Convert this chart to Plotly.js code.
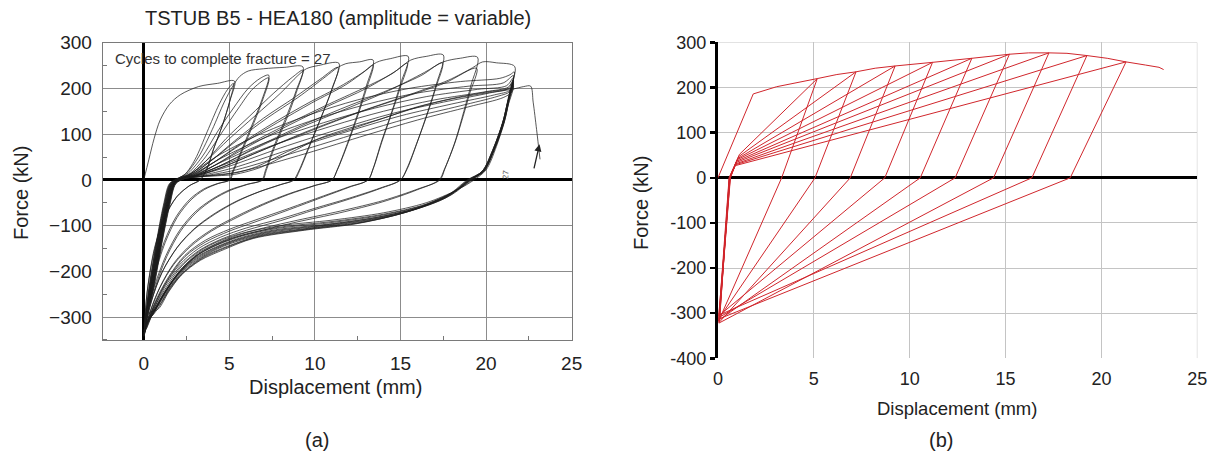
<!DOCTYPE html>
<html><head><meta charset="utf-8">
<script src="https://cdn.plot.ly/plotly-3.0.1.min.js"></script>
<style>html,body{margin:0;padding:0;background:#fff}#chart{width:1214px;height:454px}</style>
</head><body><div id="chart"></div>
<script>
// ---------- (a) experimental cycles: displacement (mm) and force (kN) ----------
const c01x=[0,0.3,0.6,0.96,1.5,2.13,3.2,4.3,5.3,5.05,4.6,4.1,3.7,3.3,2.7,1.95,1.25,0.67,0.2,0.03];
const c01f=[0,45,90,131,165,186,204,211,216,175,120,70,25,0,-12,-36,-80,-146,-245,-330];
const c02x=[0.03,0.25,0.72,1.15,1.5,1.9,2.4,3.0,3.7,4.4,4.9,5.25,5.02,4.58,4.08,3.68,3.28,2.65,1.9,1.2,0.62,0.18,0.02];
const c02f=[-330,-250,-140,-55,-8,2,12,45,105,165,198,211,172,118,68,24,0,-13,-38,-83,-150,-250,-338];
const c03x=[0.02,0.28,0.75,1.2,1.55,2.0,2.5,3.2,4.0,4.7,5.2,5.6,6.1,7.0,8.2,9.3,8.9,8.4,7.6,7.1,6.9,6.0,5.0,4.0,3.0,2.1,1.3,0.6,0.15,0.03];
const c03f=[-338,-250,-140,-55,-8,3,15,50,110,170,205,226,238,243,246,247,195,145,73,20,0,-10,-22,-42,-70,-110,-165,-235,-300,-335];
const c04x=[0.03,0.3,0.78,1.22,1.58,2.0,2.6,3.4,4.3,5.2,6.1,6.8,7.3,6.9,6.2,5.6,5.15,5.0,4.3,3.5,2.7,1.9,1.2,0.6,0.15,0.02];
const c04f=[-335,-250,-140,-55,-8,3,15,50,105,155,200,222,229,175,109,55,15,0,-8,-20,-42,-80,-135,-210,-290,-340];
const c05x=[0.02,0.26,0.74,1.18,1.55,2.0,2.7,3.5,4.5,5.5,6.4,7.3,6.92,6.25,5.65,5.2,5.05,4.35,3.55,2.75,1.95,1.25,0.62,0.17,0.03];
const c05f=[-340,-250,-140,-55,-8,2,14,45,100,155,200,223,172,108,55,15,0,-8,-21,-44,-82,-137,-212,-292,-332];
const c06x=[0.03,0.3,0.8,1.25,1.6,2.0,2.7,3.6,4.8,6.2,7.6,8.7,9.3,8.92,8.45,7.65,7.15,6.95,6.05,5.05,4.05,3.05,2.15,1.35,0.65,0.17,0.02];
const c06f=[-332,-250,-140,-55,-8,2,12,40,90,140,190,225,240,192,143,72,20,0,-10,-23,-43,-72,-112,-167,-237,-302,-342];
const c07x=[0.02,0.32,0.82,1.27,1.62,2.0,2.7,3.6,5.0,6.5,8.0,9.0,9.5,10.2,11.4,11.0,10.4,9.7,9.1,8.8,8.0,6.8,5.5,4.2,3.0,2.0,1.1,0.45,0.03];
const c07f=[-342,-250,-140,-55,-8,2,12,40,90,140,190,228,243,250,255,200,140,75,20,0,-10,-25,-45,-72,-105,-145,-200,-265,-336];
const c08x=[0.03,0.3,0.8,1.25,1.62,2.1,2.8,3.8,5.3,7.0,8.8,10.3,11.35,10.95,10.35,9.65,9.05,8.75,7.95,6.75,5.45,4.15,2.95,1.95,1.05,0.42,0.02];
const c08f=[-336,-250,-140,-55,-8,2,12,38,85,135,180,220,246,193,136,73,19,0,-11,-26,-47,-75,-108,-148,-203,-268,-330];
const c09x=[0.02,0.33,0.84,1.3,1.65,2.1,2.8,3.8,5.4,7.2,9.0,10.6,11.3,11.8,12.6,13.4,13.0,12.5,11.9,11.3,11.0,10.0,8.5,7.0,5.5,4.0,2.8,1.8,1.0,0.4,0.03];
const c09f=[-330,-250,-140,-55,-8,2,12,38,85,135,180,225,245,254,258,262,205,145,80,22,0,-12,-30,-52,-78,-108,-140,-180,-230,-285,-340];
const c10x=[0.03,0.34,0.85,1.3,1.66,2.1,2.9,4.0,5.7,7.6,9.6,11.5,12.8,13.4,13.0,12.5,11.9,11.3,11.0,9.95,8.45,6.95,5.45,3.95,2.75,1.75,0.95,0.38,0.02];
const c10f=[-340,-250,-140,-55,-8,2,11,36,80,125,168,205,235,251,198,140,77,21,0,-13,-32,-55,-82,-112,-145,-185,-235,-288,-334];
const c11x=[0.02,0.35,0.86,1.32,1.68,2.1,2.9,4.0,5.8,7.8,9.8,11.8,13.0,13.6,14.4,15.45,15.0,14.5,13.9,13.4,13.1,12.0,10.5,8.5,6.5,5.0,3.6,2.4,1.4,0.6,0.12,0.03];
const c11f=[-334,-250,-140,-55,-8,2,11,36,80,125,168,208,240,257,265,270,210,150,85,25,0,-15,-35,-62,-88,-108,-132,-165,-215,-272,-325,-338];
const c12x=[0.03,0.36,0.87,1.33,1.7,2.2,3.0,4.2,6.0,8.3,10.6,12.8,14.5,15.4,14.97,14.48,13.9,13.4,13.1,12.0,10.5,8.5,6.5,5.0,3.6,2.4,1.4,0.62,0.13,0.04];
const c12f=[-338,-250,-140,-55,-8,2,10,33,75,120,162,200,232,255,200,145,82,24,0,-16,-37,-65,-92,-112,-136,-168,-218,-274,-320,-328];
const c13x=[0.04,0.36,0.88,1.34,1.7,2.2,3.0,4.2,6.2,8.5,10.8,13.0,14.8,15.6,16.5,17.5,17.1,16.6,16.0,15.4,15.0,13.8,12.0,10.0,8.0,6.0,4.5,3.2,2.1,1.2,0.55,0.12,0.03];
const c13f=[-328,-250,-140,-55,-8,2,10,33,75,120,162,200,240,262,270,273,210,150,85,25,0,-18,-40,-62,-85,-105,-125,-150,-185,-232,-280,-325,-336];
const c14x=[0.03,0.37,0.9,1.35,1.72,2.2,3.0,4.4,6.5,9.0,11.5,14.0,16.2,17.45,17.05,16.55,15.95,15.35,15.0,13.8,12.0,10.0,8.0,6.0,4.5,3.2,2.1,1.2,0.56,0.13,0.04];
const c14f=[-336,-250,-140,-55,-8,2,9,30,70,115,155,192,228,256,200,142,80,23,0,-19,-42,-65,-89,-110,-130,-155,-190,-236,-284,-318,-326];
const c15x=[0.04,0.38,0.9,1.36,1.73,2.2,3.0,4.4,6.6,9.2,11.8,14.3,16.4,17.5,18.5,19.5,19.1,18.7,18.2,17.6,17.3,16.0,14.0,11.5,9.0,7.0,5.0,3.5,2.3,1.4,0.6,0.15,0.03];
const c15f=[-326,-250,-140,-55,-8,2,9,30,70,115,155,195,235,258,266,268,205,150,85,25,0,-20,-45,-68,-88,-105,-125,-150,-185,-230,-280,-325,-334];
const c16x=[0.03,0.38,0.92,1.38,1.75,2.2,3.1,4.6,7.0,9.8,12.6,15.3,17.6,19.45,19.05,18.65,18.15,17.55,17.25,15.95,13.95,11.45,8.95,6.95,4.95,3.45,2.25,1.35,0.58,0.15,0.04];
const c16f=[-334,-250,-140,-55,-8,2,9,28,66,108,148,182,212,244,190,138,78,22,0,-22,-48,-72,-92,-110,-130,-156,-192,-238,-286,-316,-322];
const c17x=[0.04,0.39,0.93,1.39,1.76,2.2,3.1,4.6,7.0,9.8,12.7,15.5,17.8,19.2,19.8,20.6,21.67,21.4,21.19,20.6,20.0,19.3,18.3,16.5,14.0,11.0,8.0,6.0,4.5,3.2,2.2,1.3,0.6,0.15,0.03];
const c17f=[-322,-250,-140,-55,-8,2,9,28,66,110,150,186,218,245,258,256,248,195,146,73,22,0,-22,-50,-72,-88,-100,-115,-135,-160,-195,-240,-285,-325,-330];
const c18x=[0.03,0.4,0.94,1.4,1.77,2.1,2.8,4.2,6.5,9.5,12.5,15.5,18.5,20.8,21.4,21.65,21.35,21.1,20.5,19.9,19.2,18.2,16.5,14.0,11.0,8.0,6.0,4.5,3.2,2.2,1.3,0.62,0.16,0.05];
const c18f=[-330,-250,-140,-55,-8,3,15,50,95,140,175,200,215,222,230,236,186,140,70,21,0,-24,-53,-75,-91,-103,-118,-138,-163,-198,-243,-288,-313,-318];
const c19x=[0.05,0.41,0.95,1.41,1.78,2.1,2.9,4.4,6.8,10.0,13.0,16.0,19.0,21.0,21.6,21.3,21.05,20.45,19.85,19.12,18.1,16.3,13.8,10.8,7.8,5.8,4.3,3.0,2.0,1.15,0.5,0.14,0.04];
const c19f=[-318,-250,-140,-55,-8,3,13,45,88,132,165,190,205,212,228,180,135,68,20,0,-26,-56,-78,-94,-106,-122,-142,-168,-205,-250,-295,-320,-325];
const c20x=[0.04,0.42,0.96,1.42,1.79,2.15,3.0,4.6,7.0,10.5,13.5,16.5,19.5,21.2,21.6,21.32,21.06,20.48,19.88,19.05,18.05,16.2,13.7,10.7,7.7,5.7,4.2,2.9,1.9,1.1,0.5,0.16,0.06];
const c20f=[-325,-250,-140,-55,-8,3,12,40,80,125,157,182,198,206,224,176,132,67,20,0,-28,-59,-81,-97,-109,-126,-147,-173,-210,-255,-296,-306,-312];
const c21x=[0.06,0.43,0.97,1.43,1.8,2.2,3.1,4.8,7.5,11.0,14.0,17.0,20.0,21.3,21.6,21.28,21.0,20.4,19.8,19.0,17.95,16.0,13.5,10.5,7.5,5.5,4.0,2.8,1.8,1.05,0.48,0.15,0.05];
const c21f=[-312,-250,-140,-55,-8,3,11,35,75,118,150,175,193,203,220,173,130,66,20,0,-30,-61,-83,-99,-112,-130,-152,-178,-215,-258,-296,-315,-320];
const c22x=[0.05,0.44,0.98,1.44,1.8,2.2,3.2,5.0,8.0,11.5,14.5,17.5,20.2,21.3,21.6,21.3,21.05,20.45,19.85,19.1,18.0,15.8,13.3,10.3,7.3,5.3,3.9,2.7,1.75,1.0,0.46,0.17,0.07];
const c22f=[-320,-250,-140,-55,-8,2,10,30,70,112,145,170,190,200,217,170,128,65,19,0,-32,-64,-86,-101,-115,-134,-156,-183,-220,-262,-292,-302,-306];
const c23x=[0.07,0.45,0.99,1.45,1.81,2.25,3.3,5.2,8.5,12.0,15.0,18.0,20.5,21.4,21.6,21.25,20.98,20.38,19.78,18.95,17.8,15.6,13.0,10.0,7.0,5.0,3.7,2.55,1.65,0.95,0.42,0.15,0.06];
const c23f=[-306,-250,-140,-55,-8,2,9,26,66,107,140,166,186,196,214,168,126,64,19,0,-34,-67,-89,-104,-119,-140,-162,-190,-228,-268,-298,-310,-314];
const c24x=[0.06,0.46,1.0,1.46,1.82,2.3,3.4,5.4,9.0,12.5,15.5,18.5,20.7,21.4,21.6,21.3,21.05,20.45,19.85,19.05,17.8,15.4,12.8,9.8,6.8,4.9,3.5,2.4,1.55,0.9,0.4,0.16,0.08];
const c24f=[-314,-250,-140,-55,-8,2,8,22,62,102,135,162,183,193,211,166,124,63,18,0,-36,-70,-92,-106,-122,-145,-168,-198,-235,-274,-290,-297,-300];
const c25x=[0.08,0.47,1.02,1.48,1.84,2.3,3.5,5.6,9.5,13.0,16.0,19.0,21.0,21.5,21.6,21.22,20.95,20.35,19.75,18.9,17.6,15.2,12.6,9.6,6.6,4.8,3.4,2.3,1.5,0.88,0.42,0.17,0.07];
const c25f=[-300,-250,-140,-55,-8,2,8,18,58,98,131,160,180,192,208,164,122,62,18,0,-38,-72,-94,-108,-125,-148,-172,-203,-240,-278,-300,-306,-310];
const c26x=[0.07,0.48,1.03,1.5,1.86,2.4,2.9,4.2,5.3,6.6,8.4,10.1,12.0,14.0,16.1,18.0,20.0,21.4,21.6,21.28,21.0,20.4,19.8,19.0,17.6,15.0,12.4,9.4,6.4,4.7,3.3,2.2,1.45,0.85,0.4,0.18,0.09];
const c26f=[-310,-250,-140,-55,-8,3,7,10,15,29,62,88,110,135,160,178,192,200,205,162,121,61,17,0,-40,-74,-96,-110,-128,-152,-176,-208,-245,-282,-288,-293,-296];
const c27x=[0.09,0.5,1.05,1.52,1.88,2.4,3.0,4.3,5.3,6.8,8.5,10.2,12.0,14.0,16.0,18.0,20.0,21.5,22.2,22.6,22.75,22.95,23.15];
const c27f=[-296,-250,-140,-55,-8,3,6,9,12,27,58,90,113,135,160,177,190,198,204,205,170,110,45];

// ---------- (b) model: backbone, unloading and reloading key points ----------
const modelBackboneX=[0,1.84,3.06,5.18,6.2,7.2,8.2,9.24,10.2,11.19,12.2,13.24,14.2,15.2,16.2,17.26,18.2,19.24,20.3,21.28,22.3,23.0,23.24];
const modelBackboneF=[0,186,202,220,229,235,243,248,252,256,261,265,270,274,277,277,276,271,265,257,250,245,240];
const modelPeakIdx=[3,5,7,9,11,13,15,17,19];
const modelZeroX=[3.32,5.06,6.90,8.70,10.55,12.37,14.37,16.37,18.37];
const modelMinX=[0.03,0.05,0.07,0.04,0.06,0.08,0.05,0.07,0.09];
const modelMinF=[-318,-312,-320,-306,-315,-309,-322,-304,-312];
const modelReloadZeroX=[0.58,0.62,0.60,0.64,0.59,0.63,0.61,0.65,0.60];
const modelKneeX=[1.12,1.08,1.04,1.0,0.98,0.95,0.93,0.91,0.9];
const modelKneeF=[52,47,43,40,37,34,31,29,27];

// ---------- ticks ----------
const rightYTickVals=[-400,-300,-200,-100,0,100,200,300];
const rightYTickText=['-400','-300','-200','-100','0','100','200','300'];
const rightXTickVals=[0,5,10,15,20,25];

const expCycles=[[c01x,c01f],[c02x,c02f],[c03x,c03f],[c04x,c04f],[c05x,c05f],[c06x,c06f],[c07x,c07f],[c08x,c08f],[c09x,c09f],[c10x,c10f],[c11x,c11f],[c12x,c12f],[c13x,c13f],[c14x,c14f],[c15x,c15f],[c16x,c16f],[c17x,c17f],[c18x,c18f],[c19x,c19f],[c20x,c20f],[c21x,c21f],[c22x,c22f],[c23x,c23f],[c24x,c24f],[c25x,c25f],[c26x,c26f],[c27x,c27f]];

const traces=[];
expCycles.forEach(function(c){
  traces.push({x:c[0],y:c[1],xaxis:'x',yaxis:'y',type:'scatter',mode:'lines',
    line:{color:'rgba(30,30,30,0.74)',width:1,shape:'spline',smoothing:0.9},hoverinfo:'skip'});
});

// assemble the model path
const mx=[],mf=[];
function pushPt(x,f){mx.push(x);mf.push(f);}
for(let k=0;k<=modelPeakIdx[0];k++) pushPt(modelBackboneX[k],modelBackboneF[k]);
for(let i=0;i<modelPeakIdx.length;i++){
  pushPt(modelZeroX[i],0);
  pushPt(modelMinX[i],modelMinF[i]);
  pushPt(modelReloadZeroX[i],0);
  pushPt(modelKneeX[i],modelKneeF[i]);
  const pk=modelPeakIdx[i];
  const nx=(i+1<modelPeakIdx.length)?modelPeakIdx[i+1]:modelBackboneX.length-1;
  for(let k=pk;k<=nx;k++) pushPt(modelBackboneX[k],modelBackboneF[k]);
}
traces.push({x:mx,y:mf,xaxis:'x2',yaxis:'y2',type:'scatter',mode:'lines',
  line:{color:'rgb(208,38,44)',width:1},hoverinfo:'skip'});

const FONT='Liberation Sans, Arial, Helvetica, sans-serif';
function P(px,py){return {x:px/1214,y:1-py/454};}
const ann=[];
function addText(txt,px,py,size,opts){
  const p=P(px,py);
  ann.push(Object.assign({text:txt,xref:'paper',yref:'paper',x:p.x,y:p.y,xanchor:'center',yanchor:'middle',
    showarrow:false,font:{family:FONT,size:size,color:'#222'}},opts||{}));
}
addText('TSTUB B5 - HEA180 (amplitude = variable)',338,18,20);
addText('Cycles to complete fracture = 27',113,58,15,{xanchor:'left',font:{family:FONT,size:15,color:'#333'}});
addText('Displacement (mm)',335,387,20);
addText('Force (kN)',21,193,20,{textangle:-90});
addText('(a)',317,440,20);
addText('Displacement (mm)',957,408,18.5);
addText('Force (kN)',641,203,20,{textangle:-90});
addText('(b)',941,440,20);
ann.push({xref:'x',yref:'y',x:23.12,y:78,axref:'x',ayref:'y',ax:22.78,ay:22,text:'',showarrow:true,
  arrowhead:2,arrowsize:1.1,arrowwidth:1.3,arrowcolor:'#222'});
ann.push({xref:'x',yref:'y',x:21.15,y:12,text:'27',showarrow:false,textangle:-85,
  font:{family:FONT,size:8,color:'#555'}});

const layout={
  width:1214,height:454,margin:{l:0,r:0,t:0,b:0},paper_bgcolor:'#fff',plot_bgcolor:'#fff',showlegend:false,
  font:{family:FONT,color:'#222'},
  xaxis:{domain:[0.0846,0.4709],range:[-2.4,25],tick0:0,dtick:5,anchor:'y',
    showgrid:true,gridcolor:'#8c8c8c',gridwidth:1,zeroline:true,zerolinecolor:'#000',zerolinewidth:3,
    showline:true,mirror:true,linecolor:'#7a7a7a',linewidth:1,ticks:'',
    tickfont:{family:FONT,size:19,color:'#222'},ticklabelstandoff:6,
    minor:{dtick:2.5,tick0:0,ticks:'inside',ticklen:4,tickcolor:'#777',showgrid:false}},
  yaxis:{domain:[0.2511,0.9060],range:[-350,300],tick0:0,dtick:100,anchor:'x',
    showgrid:true,gridcolor:'#8c8c8c',gridwidth:1,zeroline:true,zerolinecolor:'#000',zerolinewidth:3,
    showline:true,mirror:true,linecolor:'#7a7a7a',linewidth:1,ticks:'',
    tickfont:{family:FONT,size:19,color:'#222'},ticklabelstandoff:6,
    minor:{dtick:50,tick0:0,ticks:'inside',ticklen:4,tickcolor:'#777',showgrid:false}},
  xaxis2:{domain:[0.5914,0.9863],range:[0,25],tickvals:rightXTickVals,anchor:'y2',
    showgrid:true,gridcolor:'#c4c4c4',gridwidth:1,zeroline:false,showline:false,ticks:'',
    tickfont:{family:FONT,size:18,color:'#222'},ticklabelstandoff:8},
  yaxis2:{domain:[0.2108,0.9064],range:[-400,300],tickvals:rightYTickVals,ticktext:rightYTickText,anchor:'x2',
    showgrid:true,gridcolor:'#c4c4c4',gridwidth:1,zeroline:true,zerolinecolor:'#000',zerolinewidth:3,
    showline:true,linecolor:'#000',linewidth:3,ticks:'outside',ticklen:5,tickwidth:2.5,tickcolor:'#000',
    tickfont:{family:FONT,size:18,color:'#222'}},
  shapes:[
    {type:'line',xref:'x2',yref:'y2',x0:rightXTickVals[0],x1:rightXTickVals[5],y0:rightYTickVals[7],y1:rightYTickVals[7],line:{color:'#c4c4c4',width:1},layer:'below'},
    {type:'line',xref:'x2',yref:'y2',x0:rightXTickVals[5],x1:rightXTickVals[5],y0:rightYTickVals[0],y1:rightYTickVals[7],line:{color:'#c4c4c4',width:1},layer:'below'}
  ],
  annotations:ann
};
Plotly.newPlot('chart',traces,layout,{staticPlot:true,displayModeBar:false});
</script></body></html>
